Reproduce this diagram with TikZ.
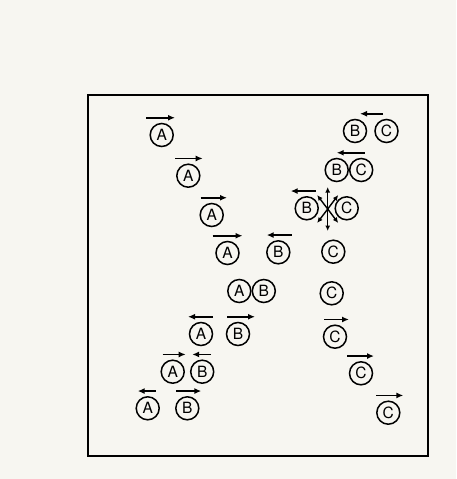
\documentclass[tikz,border=0pt]{standalone}
\usepackage{fontspec}
\newfontfamily\heros{TeX Gyre Heros}
\usetikzlibrary{arrows.meta,positioning}

\definecolor{paper}{RGB}{247,246,241}

% motion arrow above a particle: node, x offset of the tail, signed length
\newcommand{\vel}[3]{\draw[vel] ([xshift=#2pt,yshift=5pt]#1.north) -- ++(#3,0);}

\begin{document}
\begin{tikzpicture}[x=1pt, y=-1pt,
  part/.style={draw, circle, line width=1.5pt, minimum size=23pt, inner sep=0pt,
    font=\heros\fontsize{15.5}{15.5}\selectfont},
  vel/.style={line width=1.7pt, -{Latex[length=7pt,width=6pt]}},
  burst/.style={line width=1.4pt, -{Latex[length=5.5pt,width=5pt]}}]
  \fill[paper] (0,0) rectangle (456,479);
  \useasboundingbox (0,0) rectangle (456,479);
  \draw[line width=1.8pt] (88,95) rectangle (428,456);

  % A moving right, down the diagonal
  \node[part] (a1) at (161.7,135) {A};
  \node[part] (a2) at (188.3,175.7) {A};
  \node[part] (a3) at (211.7,215) {A};
  \node[part] (a4) at (227.5,253) {A};
  \node[part] (b4) at (278.3,252.3) {B};
  \node[part] (c4) at (333.3,251.7) {C};

  % A and B together
  \node[part] (a5) at (239.3,291) {A};
  \node[part, right=0pt of a5] (b5) {B};
  \node[part] (c5) at (331.7,293.3) {C};

  \node[part] (a6) at (201,334) {A};
  \node[part] (b6) at (238,334) {B};
  \node[part] (c6) at (335,336.7) {C};

  \node[part] (a7) at (172.7,371.7) {A};
  \node[part, right=5pt of a7] (b7) {B};
  \node[part] (c7) at (361,373.3) {C};

  \node[part] (a8) at (147.7,408.3) {A};
  \node[part] (b8) at (187.3,408.3) {B};
  \node[part] (c8) at (388.3,412.7) {C};

  % B and C coming in from the top right
  \node[part] (b1) at (355,131) {B};
  \node[part, right=7pt of b1] (c1) {C};
  \node[part] (b2) at (336.7,170) {B};
  \node[part, right=0pt of b2] (c2) {C};
  \node[part] (b3) at (306.7,208.3) {B};
  \node[part] (c3) at (346.7,208.3) {C};
  \coordinate (hit) at (327.7,209);

  \vel{a1}{-15.7}{29}
  \vel{a2}{-13.3}{27.7}
  \vel{a3}{-11}{26.3}
  \vel{a4}{-15}{30}
  \vel{b4}{13.4}{-25}
  \vel{a6}{12}{-25}
  \vel{b6}{-11}{28}
  \vel{c6}{-11}{25}
  \vel{a7}{-10}{23}
  \vel{b7}{9}{-19}
  \vel{c7}{-14}{27}
  \vel{a8}{8}{-18}
  \vel{b8}{-11}{25}
  \vel{c8}{-12}{27}
  \vel{b1}{28}{-23}
  \vel{b2}{28}{-28}
  \vel{b3}{9}{-25}

  % the collision
  \foreach \a/\l in {90/22, 270/22, 53/17.5, 127/17.5, 233/17.5, 307/17.5}
    \draw[burst] (hit) -- ++(\a:\l pt);
\end{tikzpicture}
\end{document}
